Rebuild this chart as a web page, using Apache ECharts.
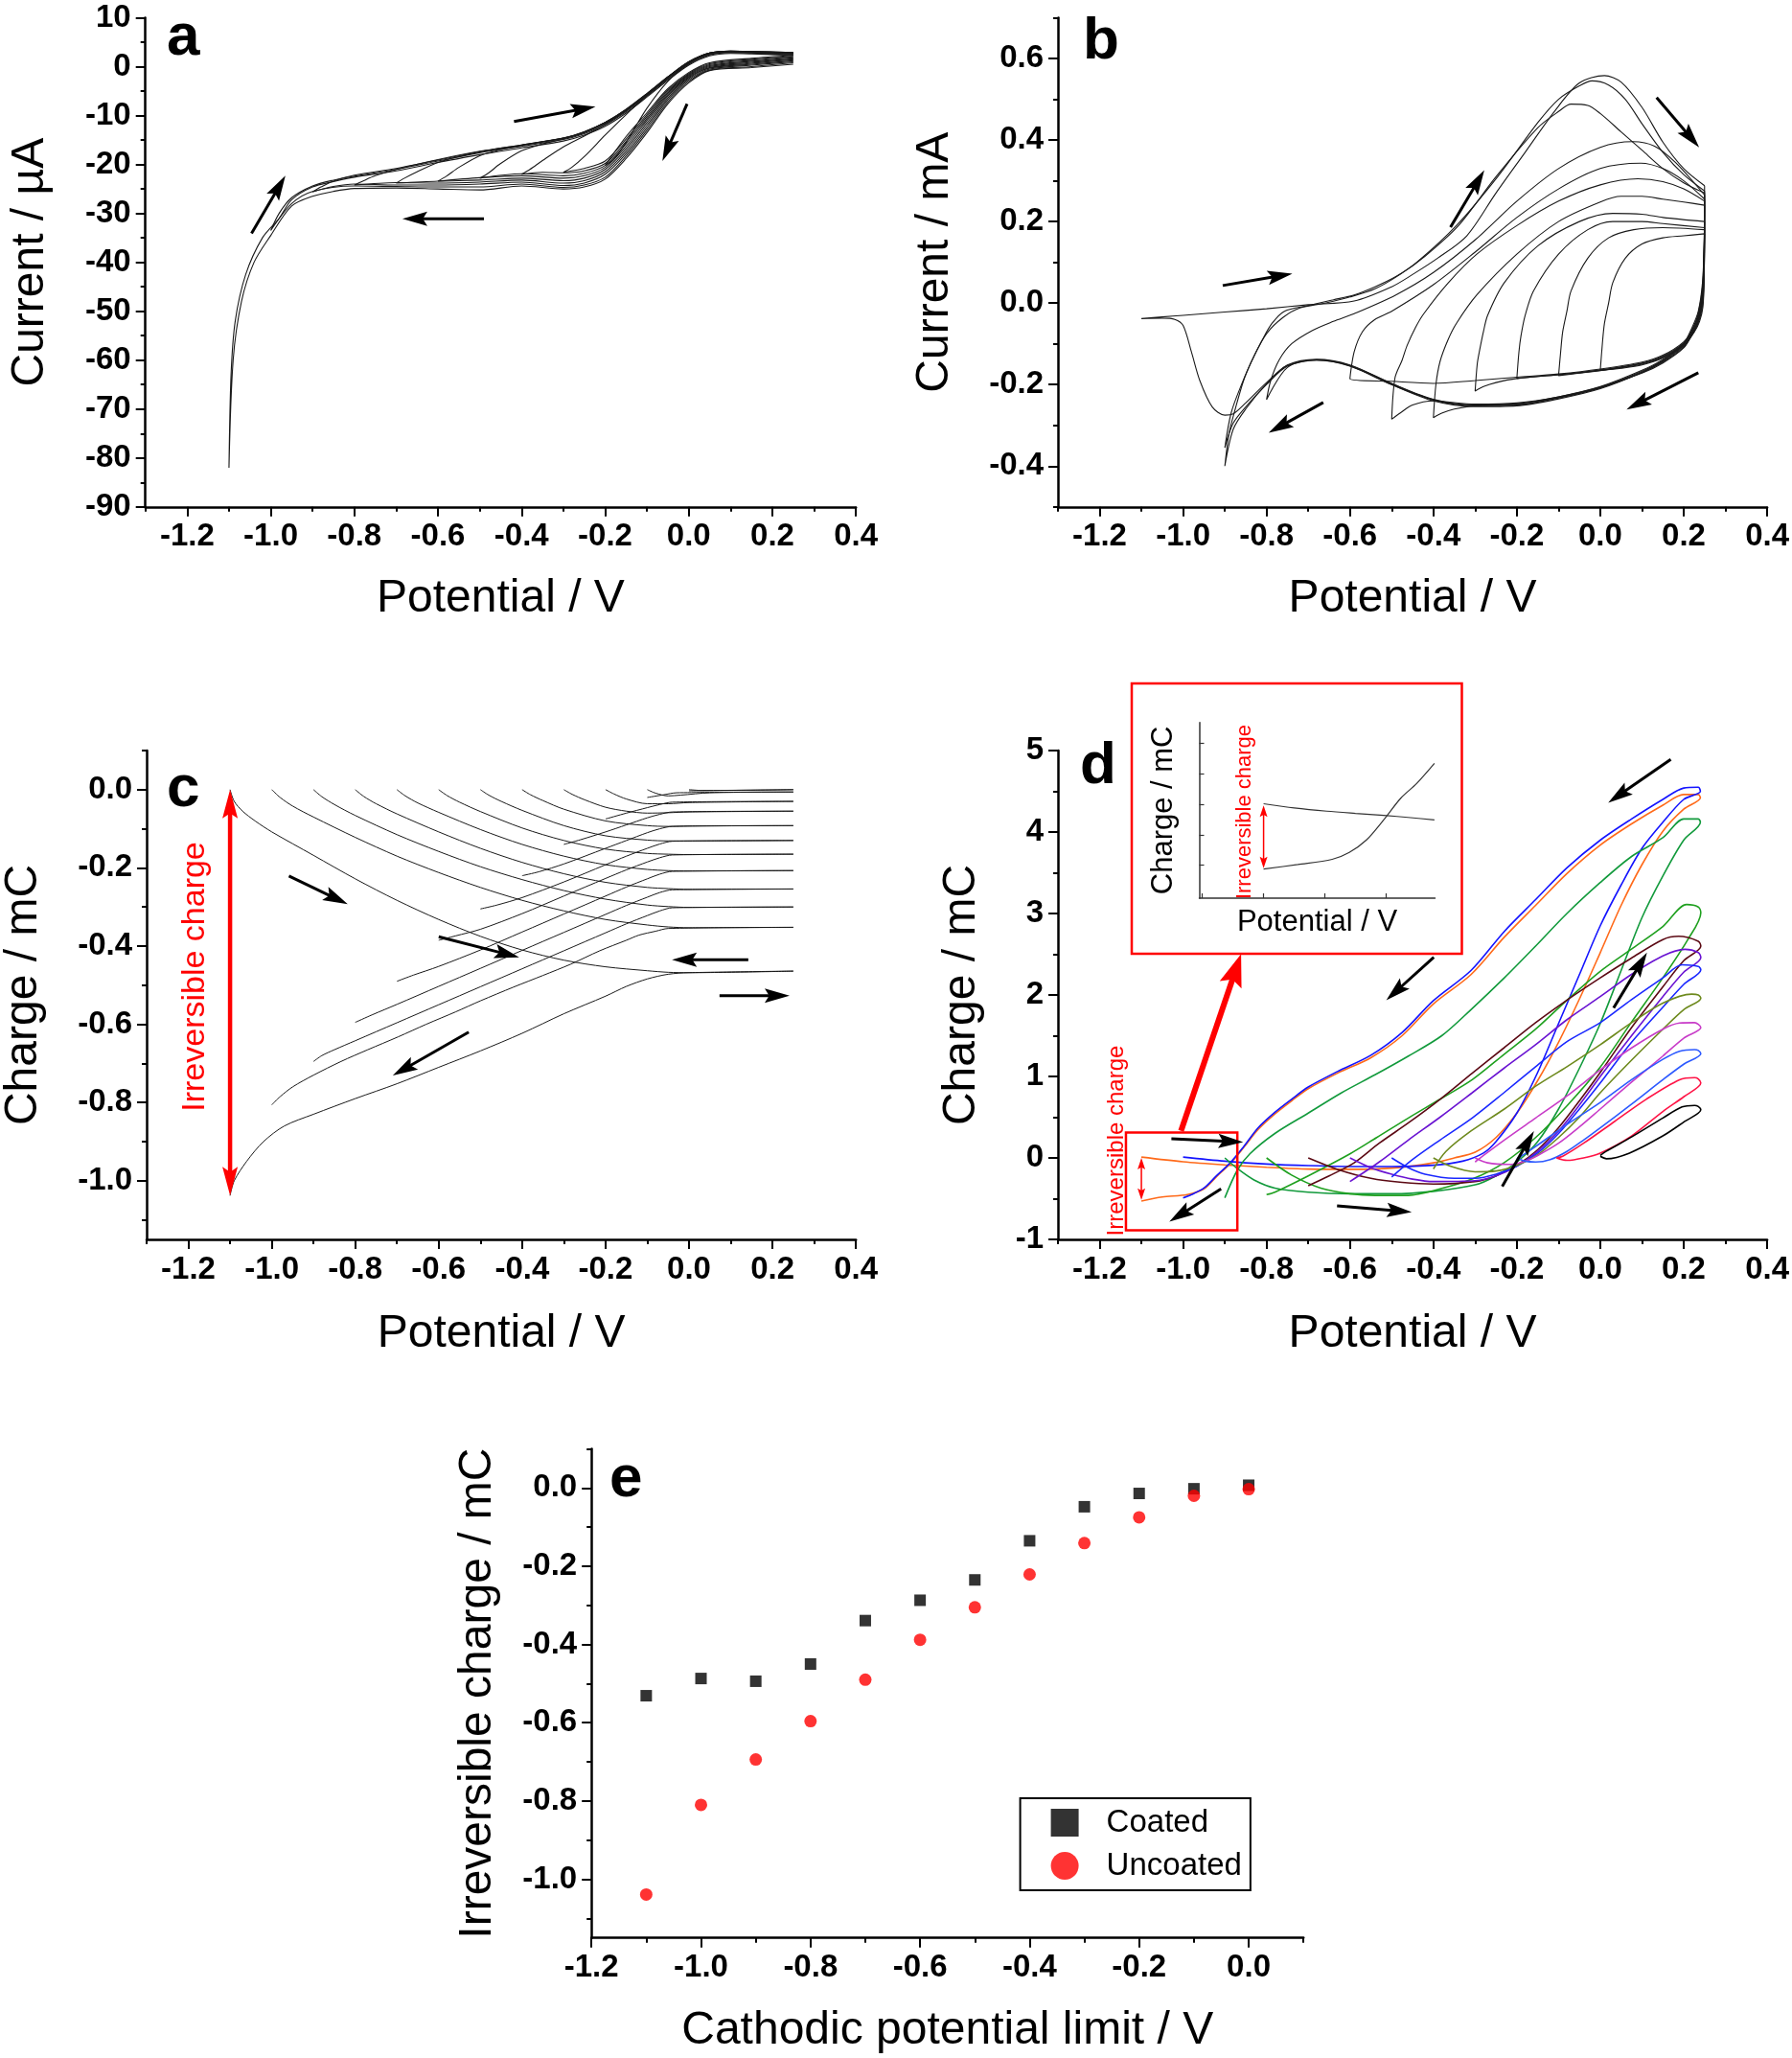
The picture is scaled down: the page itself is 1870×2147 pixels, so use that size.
<!DOCTYPE html>
<html><head><meta charset="utf-8">
<script src="https://cdn.jsdelivr.net/npm/echarts@6/dist/echarts.min.js"></script>
<style>html,body{margin:0;padding:0;background:#fff}#c{width:1870px;height:2147px}</style>
</head><body><div id="c"></div>
<script>
const FONT = "'Liberation Sans', Arial, Helvetica, sans-serif";

// ---------- Panel a : Current / µA vs Potential / V (one array per cathodic limit) ----------
const aCycleM110 = [[0.25,0.5],[0.15,-0.2],[0.05,-0.8],[0.0,-3.3],[-0.05,-7.6],[-0.1,-13.5],[-0.15,-18.8],[-0.2,-23.0],[-0.25,-24.6],[-0.3,-25.0],[-0.4,-24.4],[-0.5,-25.2],[-0.6,-25.0],[-0.7,-24.8],[-0.8,-24.9],[-0.85,-25.5],[-0.9,-26.5],[-0.95,-28.5],[-1.0,-34.5],[-1.04,-40.0],[-1.07,-48.0],[-1.09,-60.0],[-1.1,-82.0],[-1.095,-63.0],[-1.085,-52.0],[-1.06,-42.5],[-1.02,-35.0],[-0.98,-31.0],[-0.95,-27.2],[-0.9,-24.6],[-0.85,-23.5],[-0.8,-22.6],[-0.7,-21.3],[-0.6,-19.6],[-0.5,-18.0],[-0.4,-16.6],[-0.3,-15.2],[-0.25,-14.0],[-0.2,-12.2],[-0.15,-9.5],[-0.1,-6.2],[-0.05,-2.8],[0.0,0.3],[0.05,2.2],[0.1,2.7],[0.15,2.6],[0.25,2.3]];
const aCycleM100 = [[0.25,0.8],[0.15,0.0],[0.05,-0.7],[0.0,-3.0],[-0.05,-7.2],[-0.1,-13.0],[-0.15,-18.3],[-0.2,-22.6],[-0.25,-24.2],[-0.3,-24.7],[-0.4,-24.0],[-0.5,-24.6],[-0.6,-24.6],[-0.7,-24.5],[-0.8,-24.4],[-0.9,-25.5],[-0.95,-28.0],[-1.0,-33.5],[-0.98,-30.0],[-0.95,-26.8],[-0.9,-24.4],[-0.85,-23.2],[-0.8,-22.4],[-0.7,-21.0],[-0.6,-19.3],[-0.5,-17.6],[-0.4,-16.3],[-0.3,-14.9],[-0.25,-13.7],[-0.2,-11.9],[-0.15,-9.2],[-0.1,-6.0],[-0.05,-2.6],[0.0,0.5],[0.05,2.4],[0.1,2.9],[0.15,2.8],[0.25,2.4]];
const aCycleM090 = [[0.25,1.0],[0.15,0.3],[0.05,-0.5],[0.0,-2.7],[-0.05,-6.8],[-0.1,-12.5],[-0.15,-17.8],[-0.2,-22.0],[-0.25,-23.8],[-0.3,-24.3],[-0.4,-23.6],[-0.5,-24.0],[-0.6,-24.2],[-0.7,-24.2],[-0.8,-24.0],[-0.85,-24.5],[-0.9,-25.6],[-0.88,-24.6],[-0.85,-23.4],[-0.8,-22.2],[-0.7,-20.8],[-0.6,-19.1],[-0.5,-17.4],[-0.4,-16.1],[-0.3,-14.7],[-0.25,-13.5],[-0.2,-11.6],[-0.15,-9.0],[-0.1,-5.8],[-0.05,-2.4],[0.0,0.7],[0.05,2.6],[0.1,3.1],[0.15,3.0],[0.25,2.6]];
const aCycleM080 = [[0.25,1.2],[0.15,0.5],[0.05,-0.3],[0.0,-2.4],[-0.05,-6.4],[-0.1,-12.0],[-0.15,-17.3],[-0.2,-21.5],[-0.25,-23.3],[-0.3,-23.8],[-0.4,-23.2],[-0.5,-23.6],[-0.6,-23.8],[-0.7,-23.7],[-0.8,-24.2],[-0.78,-23.4],[-0.75,-22.3],[-0.7,-21.0],[-0.6,-19.0],[-0.5,-17.3],[-0.4,-16.0],[-0.3,-14.6],[-0.25,-13.4],[-0.2,-11.5],[-0.15,-8.9],[-0.1,-5.7],[-0.05,-2.3],[0.0,0.8],[0.05,2.7],[0.1,3.1],[0.15,3.0],[0.25,2.7]];
const aCycleM070 = [[0.25,1.4],[0.15,0.7],[0.05,-0.2],[0.0,-2.2],[-0.05,-6.0],[-0.1,-11.5],[-0.15,-16.8],[-0.2,-21.0],[-0.25,-22.8],[-0.3,-23.3],[-0.4,-22.8],[-0.5,-23.2],[-0.6,-23.4],[-0.7,-23.8],[-0.68,-22.8],[-0.65,-21.5],[-0.6,-19.6],[-0.55,-18.4],[-0.5,-17.4],[-0.4,-16.0],[-0.3,-14.6],[-0.25,-13.3],[-0.2,-11.4],[-0.15,-8.8],[-0.1,-5.6],[-0.05,-2.2],[0.0,0.9],[0.05,2.8],[0.1,3.2],[0.15,3.1],[0.25,2.8]];
const aCycleM060 = [[0.25,1.6],[0.15,0.9],[0.05,0.0],[0.0,-2.0],[-0.05,-5.7],[-0.1,-11.0],[-0.15,-16.3],[-0.2,-20.6],[-0.25,-22.3],[-0.3,-22.8],[-0.4,-22.3],[-0.5,-22.7],[-0.6,-23.4],[-0.58,-22.4],[-0.55,-20.6],[-0.5,-18.2],[-0.45,-17.0],[-0.4,-16.1],[-0.3,-14.6],[-0.25,-13.3],[-0.2,-11.4],[-0.15,-8.8],[-0.1,-5.5],[-0.05,-2.1],[0.0,1.0],[0.05,2.8],[0.1,3.2],[0.15,3.1],[0.25,2.9]];
const aCycleM050 = [[0.25,1.8],[0.15,1.1],[0.05,0.2],[0.0,-1.8],[-0.05,-5.4],[-0.1,-10.6],[-0.15,-15.8],[-0.2,-20.2],[-0.25,-21.8],[-0.3,-22.3],[-0.4,-21.9],[-0.5,-22.8],[-0.48,-21.8],[-0.45,-19.8],[-0.4,-17.2],[-0.35,-15.8],[-0.3,-14.8],[-0.25,-13.4],[-0.2,-11.4],[-0.15,-8.7],[-0.1,-5.5],[-0.05,-2.1],[0.0,1.0],[0.05,2.8],[0.1,3.2],[0.15,3.1],[0.25,2.9]];
const aCycleM040 = [[0.25,2.0],[0.15,1.3],[0.05,0.4],[0.0,-1.6],[-0.05,-5.1],[-0.1,-10.2],[-0.15,-15.3],[-0.2,-19.8],[-0.25,-21.3],[-0.3,-21.7],[-0.35,-21.6],[-0.4,-22.0],[-0.38,-21.0],[-0.35,-19.2],[-0.3,-16.4],[-0.25,-14.2],[-0.2,-11.8],[-0.15,-8.9],[-0.1,-5.6],[-0.05,-2.1],[0.0,1.0],[0.05,2.8],[0.1,3.1],[0.15,3.0],[0.25,2.8]];
const aCycleM030 = [[0.25,2.1],[0.15,1.5],[0.05,0.6],[0.0,-1.4],[-0.05,-4.8],[-0.1,-9.8],[-0.15,-14.8],[-0.2,-19.3],[-0.25,-20.8],[-0.3,-21.6],[-0.28,-20.6],[-0.25,-18.4],[-0.2,-14.0],[-0.15,-9.8],[-0.1,-5.9],[-0.05,-2.2],[0.0,0.9],[0.05,2.7],[0.1,3.0],[0.15,2.9],[0.25,2.7]];
const aCycleM020 = [[0.25,2.3],[0.15,1.7],[0.05,0.8],[0.0,-1.2],[-0.05,-4.5],[-0.1,-9.4],[-0.15,-14.3],[-0.2,-20.2],[-0.18,-19.0],[-0.15,-15.5],[-0.1,-8.5],[-0.05,-3.0],[0.0,0.6],[0.05,2.5],[0.1,2.9],[0.15,2.8],[0.25,2.6]];
const aArrows = [[-1.046,-34.1,-0.965,-22.3],[-0.49,-31.1,-0.685,-31.1],[-0.418,-11.2,-0.223,-8.2],[-0.004,-7.6,-0.063,-19.3]];

// ---------- Panel b : Current / mA vs Potential / V ----------
const bCycleM110 = [[0.25,0.288],[0.249,0.15],[0.245,0.05],[0.235,-0.02],[0.22,-0.06],[0.2,-0.098],[0.15,-0.138],[0.1,-0.165],[0.0,-0.205],[-0.1,-0.23],[-0.2,-0.247],[-0.3,-0.25],[-0.4,-0.237],[-0.5,-0.2],[-0.6,-0.155],[-0.68,-0.14],[-0.75,-0.153],[-0.8,-0.195],[-0.85,-0.245],[-0.88,-0.272],[-0.9,-0.275],[-0.93,-0.255],[-0.96,-0.19],[-0.98,-0.12],[-1.0,-0.055],[-1.02,-0.04],[-1.05,-0.037],[-1.1,-0.038],[-1.05,-0.034],[-1.0,-0.03],[-0.9,-0.022],[-0.8,-0.014],[-0.7,-0.004],[-0.59,0.005],[-0.5,0.04],[-0.45,0.07],[-0.39,0.11],[-0.32,0.165],[-0.25,0.27],[-0.18,0.37],[-0.11,0.47],[-0.05,0.54],[0.01,0.558],[0.05,0.542],[0.1,0.48],[0.15,0.395],[0.2,0.33],[0.25,0.288]];
const bCycleM090a = [[0.25,0.275],[0.249,0.14],[0.245,0.04],[0.235,-0.025],[0.22,-0.065],[0.2,-0.1],[0.15,-0.14],[0.1,-0.167],[0.0,-0.207],[-0.1,-0.232],[-0.2,-0.25],[-0.3,-0.252],[-0.4,-0.238],[-0.5,-0.198],[-0.6,-0.152],[-0.68,-0.138],[-0.75,-0.152],[-0.8,-0.198],[-0.85,-0.26],[-0.88,-0.31],[-0.9,-0.4],[-0.89,-0.32],[-0.875,-0.26],[-0.855,-0.19],[-0.836,-0.143],[-0.81,-0.09],[-0.787,-0.05],[-0.757,-0.02],[-0.7,-0.006],[-0.64,0.008],[-0.59,0.02],[-0.54,0.04],[-0.49,0.065],[-0.44,0.1],[-0.345,0.19],[-0.246,0.31],[-0.148,0.445],[-0.1,0.5],[-0.05,0.533],[-0.02,0.545],[0.02,0.535],[0.06,0.5],[0.1,0.44],[0.15,0.37],[0.2,0.315],[0.25,0.275]];
const bCycleM090b = [[0.25,0.27],[0.249,0.13],[0.245,0.03],[0.235,-0.03],[0.22,-0.068],[0.2,-0.103],[0.15,-0.142],[0.1,-0.17],[0.0,-0.21],[-0.1,-0.235],[-0.2,-0.252],[-0.3,-0.254],[-0.4,-0.24],[-0.5,-0.2],[-0.6,-0.154],[-0.68,-0.14],[-0.75,-0.155],[-0.8,-0.2],[-0.85,-0.255],[-0.88,-0.295],[-0.9,-0.355],[-0.885,-0.27],[-0.86,-0.2],[-0.83,-0.13],[-0.8,-0.075],[-0.76,-0.035],[-0.72,-0.012],[-0.66,0.0],[-0.6,0.015],[-0.54,0.035],[-0.48,0.07],[-0.42,0.115],[-0.34,0.19],[-0.25,0.31],[-0.15,0.43],[-0.1,0.47],[-0.07,0.488],[-0.03,0.485],[0.0,0.465],[0.05,0.42],[0.1,0.375],[0.15,0.33],[0.2,0.295],[0.25,0.27]];
const bCycleM080 = [[0.25,0.265],[0.249,0.12],[0.245,0.02],[0.235,-0.035],[0.22,-0.07],[0.2,-0.105],[0.15,-0.143],[0.1,-0.17],[0.0,-0.208],[-0.1,-0.233],[-0.2,-0.249],[-0.3,-0.25],[-0.4,-0.236],[-0.5,-0.197],[-0.6,-0.153],[-0.68,-0.139],[-0.75,-0.158],[-0.8,-0.237],[-0.79,-0.19],[-0.77,-0.14],[-0.74,-0.1],[-0.69,-0.067],[-0.64,-0.045],[-0.59,-0.026],[-0.49,0.02],[-0.4,0.075],[-0.3,0.155],[-0.2,0.25],[-0.1,0.33],[0.0,0.382],[0.078,0.396],[0.13,0.385],[0.18,0.345],[0.25,0.265]];
const bCycleM060 = [[0.25,0.255],[0.249,0.12],[0.246,0.04],[0.238,-0.02],[0.225,-0.06],[0.2,-0.095],[0.15,-0.128],[0.1,-0.145],[0.0,-0.162],[-0.1,-0.174],[-0.2,-0.182],[-0.3,-0.19],[-0.4,-0.197],[-0.5,-0.192],[-0.6,-0.186],[-0.59,-0.12],[-0.57,-0.07],[-0.54,-0.04],[-0.5,-0.02],[-0.4,0.045],[-0.3,0.125],[-0.2,0.21],[-0.1,0.28],[0.0,0.33],[0.097,0.343],[0.15,0.33],[0.2,0.3],[0.25,0.255]];
const bCycleM050 = [[0.25,0.25],[0.249,0.11],[0.245,0.015],[0.235,-0.04],[0.22,-0.075],[0.2,-0.108],[0.15,-0.145],[0.1,-0.17],[0.0,-0.206],[-0.1,-0.23],[-0.2,-0.245],[-0.3,-0.248],[-0.4,-0.24],[-0.45,-0.25],[-0.48,-0.27],[-0.5,-0.285],[-0.492,-0.183],[-0.475,-0.14],[-0.463,-0.104],[-0.443,-0.06],[-0.423,-0.026],[-0.364,0.05],[-0.296,0.12],[-0.2,0.19],[-0.1,0.25],[0.0,0.29],[0.09,0.305],[0.15,0.298],[0.2,0.28],[0.25,0.25]];
const bCycleM040 = [[0.25,0.24],[0.249,0.1],[0.245,0.01],[0.235,-0.045],[0.22,-0.078],[0.2,-0.11],[0.15,-0.147],[0.1,-0.172],[0.0,-0.207],[-0.1,-0.232],[-0.2,-0.247],[-0.3,-0.252],[-0.35,-0.26],[-0.38,-0.27],[-0.4,-0.281],[-0.394,-0.2],[-0.384,-0.143],[-0.365,-0.09],[-0.345,-0.05],[-0.296,0.02],[-0.2,0.12],[-0.1,0.2],[0.0,0.248],[0.05,0.262],[0.1,0.262],[0.15,0.255],[0.2,0.248],[0.25,0.24]];
const bCycleM030 = [[0.25,0.2],[0.249,0.09],[0.246,0.02],[0.238,-0.03],[0.225,-0.065],[0.2,-0.098],[0.15,-0.13],[0.1,-0.147],[0.0,-0.164],[-0.1,-0.176],[-0.2,-0.185],[-0.25,-0.195],[-0.28,-0.205],[-0.3,-0.216],[-0.295,-0.15],[-0.29,-0.12],[-0.28,-0.07],[-0.27,-0.03],[-0.23,0.05],[-0.15,0.14],[-0.05,0.2],[0.03,0.22],[0.1,0.218],[0.15,0.21],[0.25,0.2]];
const bCycleM020 = [[0.25,0.185],[0.249,0.08],[0.246,0.01],[0.238,-0.035],[0.225,-0.068],[0.2,-0.1],[0.15,-0.132],[0.1,-0.148],[0.0,-0.165],[-0.1,-0.176],[-0.15,-0.18],[-0.2,-0.185],[-0.195,-0.12],[-0.19,-0.08],[-0.18,-0.03],[-0.16,0.03],[-0.1,0.12],[-0.03,0.18],[0.03,0.2],[0.1,0.2],[0.15,0.195],[0.25,0.185]];
const bCycleM010 = [[0.25,0.18],[0.249,0.07],[0.246,0.0],[0.238,-0.04],[0.225,-0.07],[0.2,-0.102],[0.15,-0.133],[0.1,-0.15],[0.0,-0.166],[-0.05,-0.172],[-0.1,-0.178],[-0.095,-0.12],[-0.09,-0.07],[-0.08,-0.02],[-0.07,0.03],[-0.03,0.11],[0.02,0.16],[0.08,0.18],[0.15,0.185],[0.25,0.18]];
const bCycleP000 = [[0.25,0.17],[0.249,0.06],[0.246,-0.01],[0.238,-0.045],[0.225,-0.072],[0.2,-0.104],[0.15,-0.135],[0.1,-0.152],[0.05,-0.16],[0.0,-0.165],[0.005,-0.1],[0.01,-0.05],[0.02,0.0],[0.03,0.05],[0.06,0.11],[0.1,0.145],[0.15,0.16],[0.2,0.165],[0.25,0.17]];
const bArrows = [[-0.905,0.043,-0.738,0.072],[-0.359,0.186,-0.278,0.326],[0.135,0.504,0.237,0.382],[0.235,-0.171,0.063,-0.261],[-0.664,-0.244,-0.795,-0.318]];

// ---------- Panel c : Charge / mC vs Potential / V (anodic sweep then return) ----------
const cCycleM110 = [[-1.1,0],[-1.09,-0.03],[-1.07,-0.055],[-1.04,-0.08],[-1.0,-0.108],[-0.9,-0.168],[-0.8,-0.228],[-0.7,-0.283],[-0.6,-0.332],[-0.5,-0.375],[-0.4,-0.41],[-0.3,-0.436],[-0.2,-0.453],[-0.1,-0.463],[-0.05,-0.467],[0.0,-0.468],[0.25,-0.464],[0.0,-0.468],[-0.05,-0.472],[-0.1,-0.484],[-0.15,-0.503],[-0.2,-0.528],[-0.3,-0.573],[-0.4,-0.623],[-0.5,-0.668],[-0.6,-0.71],[-0.7,-0.752],[-0.8,-0.79],[-0.9,-0.83],[-0.97,-0.86],[-1.02,-0.9],[-1.06,-0.95],[-1.09,-1.0],[-1.1,-1.038]];
const cCycleM100 = [[-1.0,0],[-0.98,-0.02],[-0.95,-0.042],[-0.9,-0.07],[-0.8,-0.122],[-0.7,-0.17],[-0.6,-0.212],[-0.5,-0.25],[-0.4,-0.283],[-0.3,-0.31],[-0.2,-0.332],[-0.1,-0.346],[-0.05,-0.351],[0.0,-0.353],[0.25,-0.352],[-0.05,-0.355],[-0.08,-0.362],[-0.12,-0.372],[-0.15,-0.385],[-0.214,-0.412],[-0.283,-0.446],[-0.35,-0.475],[-0.421,-0.505],[-0.5,-0.54],[-0.559,-0.568],[-0.63,-0.6],[-0.697,-0.632],[-0.77,-0.665],[-0.834,-0.695],[-0.9,-0.73],[-0.95,-0.76],[-0.98,-0.785],[-1.0,-0.806]];
const cCycleM090 = [[-0.9,0],[-0.88,-0.018],[-0.85,-0.038],[-0.8,-0.066],[-0.7,-0.115],[-0.6,-0.158],[-0.5,-0.197],[-0.4,-0.23],[-0.3,-0.258],[-0.2,-0.28],[-0.1,-0.295],[-0.05,-0.299],[0.0,-0.301],[0.25,-0.3],[-0.04,-0.302],[-0.07,-0.31],[-0.1,-0.322],[-0.15,-0.343],[-0.2,-0.366],[-0.3,-0.412],[-0.4,-0.458],[-0.5,-0.504],[-0.6,-0.55],[-0.7,-0.596],[-0.8,-0.642],[-0.85,-0.665],[-0.88,-0.68],[-0.9,-0.695]];
const cCycleM080 = [[-0.8,0],[-0.78,-0.017],[-0.75,-0.036],[-0.7,-0.062],[-0.6,-0.108],[-0.5,-0.15],[-0.4,-0.186],[-0.3,-0.215],[-0.2,-0.237],[-0.1,-0.25],[-0.05,-0.253],[0.0,-0.255],[0.25,-0.254],[-0.04,-0.256],[-0.07,-0.263],[-0.1,-0.275],[-0.15,-0.296],[-0.2,-0.319],[-0.3,-0.365],[-0.4,-0.411],[-0.5,-0.457],[-0.6,-0.503],[-0.7,-0.549],[-0.76,-0.576],[-0.8,-0.595]];
const cCycleM070 = [[-0.7,0],[-0.68,-0.016],[-0.65,-0.034],[-0.6,-0.058],[-0.5,-0.102],[-0.4,-0.14],[-0.3,-0.17],[-0.2,-0.192],[-0.1,-0.204],[-0.05,-0.207],[0.0,-0.208],[0.25,-0.207],[-0.04,-0.209],[-0.07,-0.216],[-0.1,-0.228],[-0.15,-0.249],[-0.2,-0.272],[-0.3,-0.318],[-0.4,-0.364],[-0.5,-0.41],[-0.6,-0.452],[-0.66,-0.474],[-0.7,-0.49]];
const cCycleM060 = [[-0.6,0],[-0.58,-0.015],[-0.55,-0.032],[-0.5,-0.056],[-0.4,-0.098],[-0.3,-0.13],[-0.2,-0.152],[-0.1,-0.163],[-0.05,-0.165],[0.0,-0.166],[0.25,-0.165],[-0.04,-0.167],[-0.07,-0.174],[-0.1,-0.185],[-0.15,-0.205],[-0.2,-0.227],[-0.3,-0.272],[-0.4,-0.317],[-0.5,-0.357],[-0.56,-0.374],[-0.6,-0.385]];
const cCycleM050 = [[-0.5,0],[-0.48,-0.014],[-0.45,-0.03],[-0.4,-0.053],[-0.3,-0.092],[-0.2,-0.118],[-0.1,-0.129],[-0.05,-0.131],[0.0,-0.131],[0.25,-0.13],[-0.04,-0.132],[-0.07,-0.139],[-0.1,-0.15],[-0.15,-0.17],[-0.2,-0.192],[-0.3,-0.236],[-0.4,-0.276],[-0.46,-0.295],[-0.5,-0.305]];
const cCycleM040 = [[-0.4,0],[-0.38,-0.013],[-0.35,-0.028],[-0.3,-0.05],[-0.2,-0.08],[-0.1,-0.092],[-0.05,-0.094],[0.0,-0.093],[0.25,-0.092],[-0.04,-0.094],[-0.07,-0.1],[-0.1,-0.11],[-0.15,-0.13],[-0.2,-0.15],[-0.3,-0.19],[-0.36,-0.21],[-0.4,-0.22]];
const cCycleM030 = [[-0.3,0],[-0.28,-0.012],[-0.25,-0.026],[-0.2,-0.045],[-0.15,-0.055],[-0.1,-0.06],[-0.05,-0.059],[0.0,-0.057],[0.25,-0.055],[-0.04,-0.057],[-0.07,-0.063],[-0.1,-0.072],[-0.15,-0.09],[-0.2,-0.108],[-0.26,-0.128],[-0.3,-0.14]];
const cCycleM020 = [[-0.2,0],[-0.18,-0.011],[-0.15,-0.024],[-0.1,-0.036],[-0.05,-0.036],[0.0,-0.033],[0.25,-0.03],[-0.04,-0.032],[-0.07,-0.038],[-0.1,-0.046],[-0.15,-0.06],[-0.2,-0.075]];
const cCycleM010 = [[-0.1,0],[-0.08,-0.009],[-0.05,-0.016],[-0.02,-0.014],[0.05,-0.008],[0.25,-0.006],[-0.03,-0.008],[-0.06,-0.013],[-0.1,-0.02]];
const cCycleP000 = [[0.0,0],[0.03,-0.002],[0.25,0.0],[0.0,-0.003]];
const cArrows = [[-0.959,-0.221,-0.818,-0.293],[-0.6,-0.376,-0.407,-0.429],[0.142,-0.435,-0.041,-0.435],[0.073,-0.527,0.241,-0.527],[-0.528,-0.62,-0.71,-0.731]];
const cIrrevArrow = [[-1.1,0.0,-1.1,-1.038]];

// ---------- Panel d : Charge / mC vs Potential / V, coated electrode ----------
const dLoopM110 = [[-1.1,0.01],[-1.0,-0.047],[-0.9,-0.085],[-0.8,-0.115],[-0.7,-0.137],[-0.6,-0.14],[-0.5,-0.125],[-0.4,-0.06],[-0.35,0.0],[-0.3,0.07],[-0.25,0.25],[-0.2,0.55],[-0.15,0.95],[-0.1,1.42],[-0.05,1.95],[0.0,2.52],[0.05,3.1],[0.1,3.6],[0.15,4.01],[0.2,4.28],[0.24,4.42],[0.235,4.46],[0.2,4.46],[0.15,4.33],[0.075,4.1],[0.0,3.84],[-0.08,3.49],[-0.155,3.1],[-0.23,2.71],[-0.31,2.25],[-0.4,1.89],[-0.475,1.5],[-0.55,1.23],[-0.63,1.04],[-0.7,0.85],[-0.74,0.7],[-0.78,0.54],[-0.82,0.35],[-0.856,0.12],[-0.887,-0.07],[-0.92,-0.23],[-0.95,-0.38],[-0.99,-0.45],[-1.05,-0.48],[-1.1,-0.53]];
const dLoopM100 = [[-1.0,0.01],[-0.9,-0.04],[-0.8,-0.075],[-0.7,-0.095],[-0.6,-0.105],[-0.5,-0.105],[-0.4,-0.09],[-0.33,-0.04],[-0.28,0.06],[-0.25,0.2],[-0.2,0.55],[-0.15,1.05],[-0.1,1.65],[-0.05,2.25],[0.0,2.85],[0.05,3.35],[0.1,3.8],[0.15,4.12],[0.2,4.4],[0.24,4.5],[0.235,4.55],[0.2,4.54],[0.15,4.4],[0.075,4.16],[0.0,3.9],[-0.08,3.56],[-0.155,3.17],[-0.23,2.78],[-0.31,2.3],[-0.4,1.93],[-0.475,1.54],[-0.55,1.26],[-0.63,1.06],[-0.7,0.87],[-0.74,0.72],[-0.78,0.56],[-0.82,0.37],[-0.856,0.13],[-0.887,-0.06],[-0.92,-0.22],[-0.95,-0.37],[-0.98,-0.45],[-1.0,-0.49]];
const dLoopM090 = [[-0.9,0.0],[-0.87,-0.13],[-0.83,-0.27],[-0.78,-0.37],[-0.7,-0.42],[-0.6,-0.44],[-0.5,-0.44],[-0.4,-0.41],[-0.3,-0.33],[-0.25,-0.22],[-0.2,-0.05],[-0.15,0.2],[-0.1,0.6],[-0.05,1.1],[0.0,1.65],[0.05,2.3],[0.1,2.95],[0.15,3.46],[0.2,3.9],[0.24,4.12],[0.235,4.16],[0.2,4.16],[0.15,3.93],[0.075,3.7],[0.0,3.38],[-0.08,3.0],[-0.155,2.6],[-0.23,2.21],[-0.31,1.82],[-0.38,1.5],[-0.46,1.25],[-0.54,1.02],[-0.62,0.8],[-0.7,0.55],[-0.78,0.3],[-0.84,0.05],[-0.87,-0.15],[-0.9,-0.49]];
const dLoopM080 = [[-0.8,0.0],[-0.74,-0.21],[-0.67,-0.37],[-0.6,-0.44],[-0.54,-0.46],[-0.46,-0.46],[-0.384,-0.38],[-0.307,-0.26],[-0.231,-0.06],[-0.155,0.25],[-0.079,0.645],[0.0,1.115],[0.074,1.66],[0.15,2.21],[0.21,2.68],[0.241,3.01],[0.235,3.08],[0.207,3.11],[0.15,2.84],[0.074,2.56],[0.0,2.29],[-0.079,1.94],[-0.155,1.58],[-0.231,1.27],[-0.307,0.96],[-0.384,0.72],[-0.46,0.49],[-0.536,0.25],[-0.6,0.05],[-0.7,-0.22],[-0.78,-0.42],[-0.8,-0.45]];
const dLoopM070 = [[-0.7,0.0],[-0.63,-0.14],[-0.55,-0.25],[-0.475,-0.3],[-0.4,-0.32],[-0.3,-0.29],[-0.25,-0.22],[-0.2,-0.09],[-0.15,0.1],[-0.1,0.37],[-0.05,0.7],[0.0,1.05],[0.075,1.6],[0.15,2.1],[0.2,2.42],[0.241,2.6],[0.235,2.66],[0.188,2.72],[0.15,2.68],[0.074,2.45],[0.0,2.21],[-0.079,1.94],[-0.155,1.66],[-0.231,1.35],[-0.307,1.04],[-0.384,0.72],[-0.46,0.43],[-0.53,0.18],[-0.59,-0.06],[-0.65,-0.22],[-0.7,-0.34]];
const dLoopM060 = [[-0.6,0.0],[-0.55,-0.12],[-0.5,-0.2],[-0.45,-0.26],[-0.4,-0.29],[-0.3,-0.28],[-0.25,-0.22],[-0.2,-0.1],[-0.15,0.08],[-0.1,0.33],[-0.05,0.65],[0.0,1.0],[0.075,1.5],[0.15,1.98],[0.2,2.28],[0.241,2.46],[0.235,2.52],[0.203,2.56],[0.15,2.48],[0.074,2.25],[0.0,1.98],[-0.079,1.7],[-0.155,1.39],[-0.231,1.1],[-0.307,0.8],[-0.384,0.5],[-0.46,0.22],[-0.53,-0.05],[-0.6,-0.29]];
const dLoopM050 = [[-0.5,0.0],[-0.46,-0.12],[-0.42,-0.2],[-0.35,-0.25],[-0.3,-0.25],[-0.25,-0.2],[-0.2,-0.1],[-0.15,0.06],[-0.1,0.3],[-0.05,0.6],[0.0,0.92],[0.075,1.42],[0.15,1.85],[0.2,2.13],[0.241,2.31],[0.235,2.35],[0.196,2.37],[0.15,2.21],[0.074,1.94],[0.0,1.66],[-0.079,1.43],[-0.155,1.12],[-0.231,0.8],[-0.307,0.49],[-0.384,0.22],[-0.45,-0.02],[-0.5,-0.235]];
const dLoopM040 = [[-0.4,0.0],[-0.36,-0.1],[-0.3,-0.17],[-0.25,-0.16],[-0.2,-0.09],[-0.15,0.04],[-0.1,0.25],[-0.05,0.5],[0.0,0.8],[0.075,1.2],[0.15,1.58],[0.2,1.82],[0.241,1.96],[0.235,2.0],[0.219,2.01],[0.15,1.9],[0.075,1.66],[0.0,1.39],[-0.08,1.12],[-0.155,0.88],[-0.23,0.6],[-0.31,0.33],[-0.37,0.08],[-0.4,-0.135]];
const dLoopM030 = [[-0.3,0.0],[-0.27,-0.06],[-0.22,-0.08],[-0.18,-0.04],[-0.15,0.03],[-0.1,0.18],[-0.05,0.38],[0.0,0.6],[0.075,0.93],[0.15,1.25],[0.2,1.47],[0.241,1.6],[0.235,1.64],[0.226,1.66],[0.19,1.655],[0.15,1.58],[0.075,1.35],[0.0,1.08],[-0.08,0.76],[-0.155,0.49],[-0.23,0.22],[-0.28,0.03],[-0.3,-0.05]];
const dLoopM020 = [[-0.2,0.0],[-0.18,-0.04],[-0.155,-0.05],[-0.12,-0.02],[-0.08,0.08],[-0.04,0.22],[0.0,0.37],[0.075,0.66],[0.15,0.96],[0.2,1.15],[0.241,1.28],[0.235,1.32],[0.226,1.33],[0.19,1.31],[0.15,1.21],[0.075,0.96],[0.0,0.68],[-0.08,0.41],[-0.155,0.14],[-0.2,-0.014]];
const dLoopM010 = [[-0.105,0.0],[-0.08,-0.03],[-0.04,0.0],[0.0,0.06],[0.075,0.27],[0.15,0.57],[0.2,0.75],[0.241,0.92],[0.235,0.97],[0.226,0.985],[0.19,0.96],[0.11,0.72],[0.035,0.45],[-0.04,0.18],[-0.09,0.02],[-0.105,0.0]];
const dLoopP000 = [[0.0,0.02],[0.015,-0.01],[0.07,0.06],[0.15,0.27],[0.2,0.44],[0.241,0.59],[0.235,0.63],[0.226,0.645],[0.196,0.626],[0.15,0.49],[0.074,0.254],[0.013,0.078],[0.0,0.03]];
const dArrows = [[0.169,4.89,0.019,4.36],[-0.399,2.464,-0.513,1.936],[0.032,1.84,0.112,2.52],[-0.235,-0.35,-0.159,0.33],[-0.631,-0.587,-0.452,-0.665],[-1.028,0.234,-0.856,0.195],[-0.909,-0.38,-1.033,-0.783]];
const dRedArrow = [[-1.005,0.332,-0.861,2.503]];
const dZoomBox = [[-1.137,0.313,-0.870,-0.888]];
const dIrrevArrow = [[-1.1,0.0,-1.1,-0.516]];

// ---------- Inset of panel d ----------
const insetTop = [[-1.1,0.004],[-1.05,-0.03],[-0.997,-0.057],[-0.95,-0.075],[-0.904,-0.091],[-0.86,-0.11],[-0.821,-0.129]];
const insetBottom = [[-1.1,-0.532],[-1.044,-0.494],[-0.988,-0.452],[-0.96,-0.395],[-0.932,-0.293],[-0.904,-0.129],[-0.876,0.049],[-0.85,0.17],[-0.821,0.335]];
const insetIrrevArrow = [[-1.1,-0.01,-1.1,-0.525]];

// ---------- Panel e ----------
const eLimits = [-1.1,-1.0,-0.9,-0.8,-0.7,-0.6,-0.5,-0.4,-0.3,-0.2,-0.1,0.0];
const eCoated = [-0.531,-0.487,-0.494,-0.45,-0.339,-0.287,-0.235,-0.135,-0.048,-0.014,-0.002,0.007];
const eUncoated = [-1.039,-0.81,-0.694,-0.596,-0.49,-0.388,-0.305,-0.221,-0.141,-0.075,-0.02,-0.003];

// ---------- Tick values ----------
const potMajor = [-1.2,-1.0,-0.8,-0.6,-0.4,-0.2,0.0,0.2,0.4];
const potMinor = [-1.3,-1.1,-0.9,-0.7,-0.5,-0.3,-0.1,0.1,0.3];
const aYMajor = [-90,-80,-70,-60,-50,-40,-30,-20,-10,0,10];
const aYMinor = [-85,-75,-65,-55,-45,-35,-25,-15,-5,5];
const bYMajor = [-0.4,-0.2,0.0,0.2,0.4,0.6];
const bYMinor = [-0.5,-0.3,-0.1,0.1,0.3,0.5,0.7];
const cYMajor = [-1.0,-0.8,-0.6,-0.4,-0.2,0.0];
const cYMinor = [-1.1,-0.9,-0.7,-0.5,-0.3,-0.1,0.1];
const dYMajor = [-1,0,1,2,3,4,5];
const dYMinor = [-0.5,0.5,1.5,2.5,3.5,4.5];
const eXMajor = [-1.2,-1.0,-0.8,-0.6,-0.4,-0.2,0.0];
const eXMinor = [-1.1,-0.9,-0.7,-0.5,-0.3,-0.1,0.1];

const f1 = v => v.toFixed(1);
const f0 = v => String(Math.round(v));

function majorAxis(dim, g, min, max, ticks, fmt, name, nameGap) {
  return {
    type: 'value', gridIndex: g, min: min, max: max, position: dim === 'x' ? 'bottom' : 'left',
    axisLine: { show: true, onZero: false, lineStyle: { color: '#000', width: 2.5 } },
    axisTick: { show: true, inside: false, length: 10, customValues: ticks, lineStyle: { color: '#000', width: 2 } },
    axisLabel: { show: true, customValues: ticks, formatter: fmt, fontSize: 33, fontWeight: 'bold', fontFamily: FONT, color: '#000', margin: 15 },
    splitLine: { show: false },
    name: name, nameLocation: 'middle', nameGap: nameGap,
    nameTextStyle: { fontSize: 48, fontFamily: FONT, color: '#000' }
  };
}
function minorAxis(dim, g, min, max, ticks) {
  return {
    type: 'value', gridIndex: g, min: min, max: max, position: dim === 'x' ? 'bottom' : 'left',
    axisLine: { show: false, onZero: false },
    axisTick: { show: true, inside: false, length: 5, customValues: ticks, lineStyle: { color: '#000', width: 2 } },
    axisLabel: { show: false }, splitLine: { show: false }
  };
}

const grids = [
  { left: 151.7, top: 18.5, width: 741.5, height: 510.3 },
  { left: 1104, top: 18.5, width: 741, height: 510.3 },
  { left: 151.7, top: 783, width: 741.5, height: 510 },
  { left: 1104, top: 783, width: 741, height: 510 },
  { left: 617.2, top: 1511.5, width: 743, height: 510.2 },
  { left: 1251.5, top: 753.7, width: 246, height: 183.3 }
];

const xAxes = [
  majorAxis('x', 0, -1.3, 0.4, potMajor, f1, 'Potential / V', 72), minorAxis('x', 0, -1.3, 0.4, potMinor),
  majorAxis('x', 1, -1.3, 0.4, potMajor, f1, 'Potential / V', 72), minorAxis('x', 1, -1.3, 0.4, potMinor),
  majorAxis('x', 2, -1.3, 0.4, potMajor, f1, 'Potential / V', 75), minorAxis('x', 2, -1.3, 0.4, potMinor),
  majorAxis('x', 3, -1.3, 0.4, potMajor, f1, 'Potential / V', 75), minorAxis('x', 3, -1.3, 0.4, potMinor),
  majorAxis('x', 4, -1.2, 0.1, eXMajor, f1, 'Cathodic potential limit / V', 73), minorAxis('x', 4, -1.2, 0.1, eXMinor),
  { type: 'value', gridIndex: 5, min: -1.205, max: -0.82, z: 3,
    axisLine: { show: true, onZero: false, lineStyle: { color: '#333', width: 1.5 } },
    axisTick: { show: true, inside: true, length: 5, customValues: [-1.2,-1.1,-1.0,-0.9], lineStyle: { color: '#333', width: 1.2 } },
    axisLabel: { show: false }, splitLine: { show: false },
    name: 'Potential / V', nameLocation: 'middle', nameGap: 10, nameTextStyle: { fontSize: 31, fontFamily: FONT, color: '#000' } }
];
const yAxes = [
  majorAxis('y', 0, -90, 10, aYMajor, f0, 'Current / µA', 96), minorAxis('y', 0, -90, 10, aYMinor),
  majorAxis('y', 1, -0.5, 0.7, bYMajor, f1, 'Current / mA', 104), minorAxis('y', 1, -0.5, 0.7, bYMinor),
  majorAxis('y', 2, -1.15, 0.1, cYMajor, f1, 'Charge / mC', 104), minorAxis('y', 2, -1.15, 0.1, cYMinor),
  majorAxis('y', 3, -1, 5, dYMajor, f0, 'Charge / mC', 76), minorAxis('y', 3, -1, 5, dYMinor),
  majorAxis('y', 4, -1.15, 0.1, cYMajor, f1, 'Irreversible charge / mC', 94), minorAxis('y', 4, -1.15, 0.1, cYMinor),
  { type: 'value', gridIndex: 5, min: -0.77, max: 0.67, z: 3,
    axisLine: { show: true, onZero: false, lineStyle: { color: '#333', width: 1.5 } },
    axisTick: { show: true, inside: true, length: 5, customValues: [-0.5,-0.25,0,0.25,0.5], lineStyle: { color: '#333', width: 1.2 } },
    axisLabel: { show: false }, splitLine: { show: false },
    name: 'Charge / mC', nameLocation: 'middle', nameGap: 22, nameTextStyle: { fontSize: 31, fontFamily: FONT, color: '#000' } }
];

function curve(g, data, color, width) {
  const ai = g === 5 ? 10 : 2 * g;
  return { type: 'line', xAxisIndex: ai, yAxisIndex: ai, data: data, showSymbol: false, symbol: 'none',
    smooth: 0.3, silent: true, z: g === 5 ? 4 : 2, lineStyle: { color: color, width: width } };
}
function arrowSeries(g, data, st) {
  const ai = g === 5 ? 10 : 2 * g;
  return {
    type: 'custom', coordinateSystem: 'cartesian2d', xAxisIndex: ai, yAxisIndex: ai, data: data, silent: true, z: 6,
    renderItem: function (params, api) {
      const p1 = api.coord([api.value(0), api.value(1)]);
      const p2 = api.coord([api.value(2), api.value(3)]);
      const dx = p2[0] - p1[0], dy = p2[1] - p1[1];
      const len = Math.sqrt(dx * dx + dy * dy) || 1;
      const ux = dx / len, uy = dy / len, nx = -uy, ny = ux;
      const L = st.head, W = st.hw / 2;
      const head = (tip, ex, ey) => ({ type: 'polygon', shape: { points: [
        [tip[0], tip[1]],
        [tip[0] - ex * L + nx * W, tip[1] - ey * L + ny * W],
        [tip[0] - ex * L * 0.82, tip[1] - ey * L * 0.82],
        [tip[0] - ex * L - nx * W, tip[1] - ey * L - ny * W]] }, style: { fill: st.color } });
      const children = [];
      let s = p1;
      if (st.both) { s = [p1[0] + ux * L * 0.8, p1[1] + uy * L * 0.8]; children.push(head(p1, -ux, -uy)); }
      const e = [p2[0] - ux * L * 0.8, p2[1] - uy * L * 0.8];
      children.push({ type: 'line', shape: { x1: s[0], y1: s[1], x2: e[0], y2: e[1] }, style: { stroke: st.color, lineWidth: st.lw } });
      children.push(head(p2, ux, uy));
      return { type: 'group', children: children };
    }
  };
}
function boxSeries(g, data, color, lw) {
  const ai = 2 * g;
  return {
    type: 'custom', coordinateSystem: 'cartesian2d', xAxisIndex: ai, yAxisIndex: ai, data: data, silent: true, z: 5,
    renderItem: function (params, api) {
      const p1 = api.coord([api.value(0), api.value(1)]);
      const p2 = api.coord([api.value(2), api.value(3)]);
      return { type: 'rect', shape: { x: Math.min(p1[0], p2[0]), y: Math.min(p1[1], p2[1]), width: Math.abs(p2[0] - p1[0]), height: Math.abs(p2[1] - p1[1]) },
        style: { fill: 'none', stroke: color, lineWidth: lw } };
    }
  };
}

const LINE = '#1a1a1a';
const series = [];
[aCycleM110, aCycleM100, aCycleM090, aCycleM080, aCycleM070, aCycleM060, aCycleM050, aCycleM040, aCycleM030, aCycleM020]
  .forEach(d => series.push(curve(0, d, LINE, 1.1)));
[bCycleM110, bCycleM090a, bCycleM090b, bCycleM080, bCycleM060, bCycleM050, bCycleM040, bCycleM030, bCycleM020, bCycleM010, bCycleP000]
  .forEach(d => series.push(curve(1, d, LINE, 1.1)));
[cCycleM110, cCycleM100, cCycleM090, cCycleM080, cCycleM070, cCycleM060, cCycleM050, cCycleM040, cCycleM030, cCycleM020, cCycleM010, cCycleP000]
  .forEach(d => series.push(curve(2, d, LINE, 1.0)));
const dColors = ['#ff6a1a', '#1414ff', '#129a3c', '#1fa01f', '#5c0a14', '#6a14d2', '#1a28ff', '#6e8a1e', '#c83cc8', '#2d5aff', '#ff1446', '#000000'];
[dLoopM110, dLoopM100, dLoopM090, dLoopM080, dLoopM070, dLoopM060, dLoopM050, dLoopM040, dLoopM030, dLoopM020, dLoopM010, dLoopP000]
  .forEach((d, i) => series.push(curve(3, d, dColors[i], 1.6)));
series.push(curve(5, insetTop, '#333', 1.2));
series.push(curve(5, insetBottom, '#333', 1.2));

series.push(arrowSeries(0, aArrows, { color: '#000', lw: 3, head: 26, hw: 15 }));
series.push(arrowSeries(1, bArrows, { color: '#000', lw: 3, head: 26, hw: 15 }));
series.push(arrowSeries(2, cArrows, { color: '#000', lw: 3, head: 26, hw: 15 }));
series.push(arrowSeries(2, cIrrevArrow, { color: '#ff0000', lw: 4.5, head: 30, hw: 16, both: true }));
series.push(arrowSeries(3, dArrows, { color: '#000', lw: 3, head: 26, hw: 15 }));
series.push(arrowSeries(3, dRedArrow, { color: '#ff0000', lw: 6, head: 34, hw: 24 }));
series.push(arrowSeries(3, dIrrevArrow, { color: '#ff0000', lw: 1.5, head: 12, hw: 8, both: true }));
series.push(boxSeries(3, dZoomBox, '#ff0000', 2.5));
series.push(arrowSeries(5, insetIrrevArrow, { color: '#ff0000', lw: 1.5, head: 12, hw: 8, both: true }));

series.push({ name: 'Coated', type: 'scatter', xAxisIndex: 8, yAxisIndex: 8, symbol: 'rect', symbolSize: 12,
  itemStyle: { color: '#000' }, data: eLimits.map((x, i) => [x, eCoated[i]]), silent: true, z: 3 });
series.push({ name: 'Uncoated', type: 'scatter', xAxisIndex: 8, yAxisIndex: 8, symbol: 'circle', symbolSize: 13,
  itemStyle: { color: '#ff0000' }, data: eLimits.map((x, i) => [x, eUncoated[i]]), silent: true, z: 3 });

const letter = (t, x, y) => ({ type: 'text', x: x, y: y, z: 10, style: { text: t, fill: '#000', font: 'bold 62px ' + FONT, align: 'left', verticalAlign: 'middle' } });
const redText = (t, x, y, size) => ({ type: 'text', x: x, y: y, rotation: Math.PI / 2, z: 10,
  style: { text: t, fill: '#ff0000', font: size + 'px ' + FONT, align: 'center', verticalAlign: 'middle' } });

const option = {
  animation: false,
  backgroundColor: '#fff',
  grid: grids,
  xAxis: xAxes,
  yAxis: yAxes,
  legend: {
    show: true, orient: 'vertical', left: 1064.6, top: 1876, padding: [9, 9, 9, 32],
    itemWidth: 29, itemHeight: 29, itemGap: 12, borderColor: '#000', borderWidth: 2, backgroundColor: '#fff',
    textStyle: { fontSize: 33, fontFamily: FONT, color: '#000', padding: [0, 0, 0, 24] },
    data: [{ name: 'Coated', icon: 'rect' }, { name: 'Uncoated', icon: 'circle' }],
    selectedMode: false
  },
  graphic: [
    { type: 'rect', z: 1, shape: { x: 1181, y: 713, width: 344.5, height: 282 }, style: { fill: '#fff', stroke: '#ff0000', lineWidth: 2.5 } },
    letter('a', 174, 40), letter('b', 1130, 44), letter('c', 174, 824), letter('d', 1127, 800), letter('e', 636, 1544),
    redText('Irreversible charge', 204, 1019, 34),
    redText('Irreversible charge', 1165, 1190, 24),
    redText('Irreversible charge', 1299, 847, 22)
  ],
  series: series
};
const chart = echarts.init(document.getElementById('c'), null, { renderer: 'canvas', width: 1870, height: 2147 });
chart.setOption(option);
</script></body></html>
